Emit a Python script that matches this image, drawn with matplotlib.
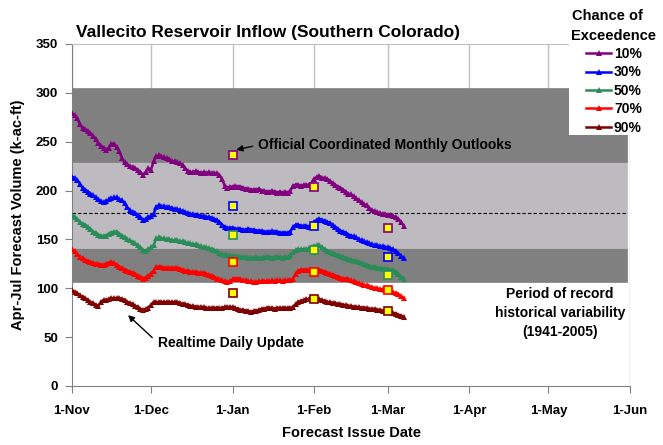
import matplotlib
matplotlib.use('Agg')
import matplotlib.pyplot as plt
import matplotlib.dates as mdates
from matplotlib.patches import Rectangle
import pandas as pd

plt.rcParams['font.family'] = ['Liberation Sans', 'DejaVu Sans']
plt.rcParams['font.weight'] = 'bold'

# daily forecasts (k-ac-ft), 1-Nov through 7-Mar
p10 = [279, 277, 274, 268, 264, 263, 261, 259, 256, 253, 249, 246, 244, 242, 244, 248,
       248, 245, 240, 233, 229, 227, 225, 224, 223, 221, 219, 216, 219, 223, 221, 230,
       235, 236, 235, 234, 233, 232, 230, 230, 229, 228, 226, 223, 220, 219, 219, 220,
       219, 218, 219, 218, 219, 218, 218, 218, 216, 212, 205, 203, 204, 204, 205, 204,
       204, 203, 202, 202, 201, 201, 201, 202, 200, 200, 199, 199, 200, 199, 198, 199,
       198, 199, 198, 200, 205, 206, 206, 205, 206, 206, 206, 208, 212, 214, 215, 213,
       213, 212, 210, 208, 206, 204, 203, 201, 199, 197, 196, 194, 192, 190, 188, 186,
       185, 182, 180, 179, 178, 177, 176, 176, 175, 175, 174, 173, 171, 168, 164]
p30 = [214, 213, 211, 207, 203, 201, 199, 197, 195, 193, 191, 189, 188, 189, 191, 192,
       193, 193, 191, 190, 187, 183, 180, 178, 177, 175, 173, 170, 171, 173, 174, 176,
       183, 185, 184, 184, 183, 183, 182, 181, 181, 180, 179, 178, 177, 176, 176, 175,
       175, 174, 174, 173, 173, 172, 171, 170, 168, 165, 163, 162, 162, 162, 161, 161,
       161, 160, 160, 161, 160, 160, 159, 159, 159, 158, 158, 158, 159, 158, 158, 157,
       157, 157, 157, 158, 163, 165, 165, 164, 164, 164, 163, 165, 168, 170, 171, 170,
       169, 168, 167, 165, 163, 161, 159, 158, 157, 155, 154, 153, 152, 150, 149, 148,
       147, 146, 145, 144, 144, 143, 143, 142, 142, 141, 140, 138, 136, 133, 131]
p50 = [175, 173, 171, 168, 166, 165, 163, 161, 158, 157, 155, 154, 153, 154, 156, 157,
       158, 158, 156, 154, 152, 150, 149, 147, 146, 144, 142, 139, 138, 140, 142, 144,
       151, 152, 151, 151, 150, 150, 149, 149, 149, 148, 148, 147, 146, 146, 145, 145,
       144, 143, 142, 142, 141, 140, 139, 138, 136, 135, 134, 134, 134, 133, 133, 133,
       132, 132, 132, 131, 131, 131, 132, 131, 131, 132, 132, 132, 131, 132, 132, 132,
       131, 132, 132, 134, 137, 139, 140, 140, 140, 140, 141, 142, 143, 144, 144, 142,
       140, 138, 137, 136, 135, 134, 133, 132, 131, 130, 129, 128, 128, 127, 126, 125,
       124, 123, 122, 122, 121, 121, 120, 120, 120, 119, 119, 117, 115, 112, 110]
p70 = [140, 138, 135, 132, 131, 129, 128, 127, 126, 125, 125, 124, 124, 125, 126, 127,
       126, 124, 122, 121, 119, 118, 117, 116, 115, 113, 112, 110, 111, 113, 115, 118,
       122, 122, 122, 121, 121, 121, 121, 121, 121, 120, 119, 118, 118, 117, 117, 117,
       116, 116, 116, 115, 114, 113, 112, 110, 109, 108, 107, 106, 107, 109, 110, 110,
       109, 108, 108, 107, 107, 106, 106, 107, 107, 107, 107, 107, 108, 107, 108, 108,
       107, 108, 108, 108, 110, 115, 118, 119, 119, 119, 119, 119, 119, 119, 119, 118,
       117, 116, 115, 114, 113, 112, 111, 110, 110, 109, 108, 107, 106, 105, 104, 103,
       103, 102, 101, 100, 100, 99, 99, 98, 98, 97, 96, 95, 94, 92, 90]
p90 = [98, 96, 95, 93, 91, 90, 88, 86, 85, 83, 82, 86, 88, 88, 89, 90,
       90, 90, 90, 89, 88, 86, 85, 84, 82, 81, 79, 78, 79, 80, 83, 86,
       86, 86, 86, 86, 86, 86, 86, 86, 86, 85, 84, 84, 83, 82, 82, 81,
       81, 81, 81, 80, 80, 80, 80, 80, 80, 80, 81, 81, 81, 81, 80, 79,
       78, 78, 77, 77, 76, 77, 77, 78, 79, 79, 80, 80, 80, 79, 80, 80,
       80, 80, 80, 80, 81, 84, 86, 87, 88, 89, 89, 90, 90, 90, 89, 88,
       87, 86, 86, 85, 85, 84, 84, 83, 83, 82, 82, 81, 81, 81, 80, 80,
       80, 79, 79, 79, 78, 78, 77, 77, 76, 76, 75, 74, 73, 72, 71]

# official coordinated outlooks (10, 30, 50, 70, 90 %)
outlook_dates = ['2006-01-01', '2006-02-01', '2006-03-01']
outlook_jan = [236, 184, 155, 127, 95]
outlook_feb = [204, 164, 139, 117, 89]
outlook_mar = [162, 132, 114, 98, 77]

# period of record bands (1941-2005)
band_edges = [0, 106.5, 141, 229, 305]
band_median = 177.5

labels = ['10%', '30%', '50%', '70%', '90%']
colors = ['#800080', '#0000ff', '#2a8c58', '#ff0000', '#800000']
band_colors = ['white', '#808080', '#bdbbbf', '#808080']

fig = plt.figure(figsize=(6.63, 4.45), dpi=100)
ax = fig.add_axes([72 / 663, 1 - 386 / 445, 558 / 663, 342 / 445])

start = pd.Timestamp('2005-11-01')
end = pd.Timestamp('2006-06-01')
band_end = pd.Timestamp('2006-05-31')

for i in range(4):
    ax.fill_between([start, band_end], band_edges[i], band_edges[i + 1],
                    facecolor=band_colors[i], edgecolor=band_colors[i], lw=0.5, zorder=1)
ax.plot([start, band_end], [band_median, band_median], color='black', lw=0.8,
        dashes=(3, 2), zorder=2)

dates = pd.date_range(start, periods=len(p10), freq='D')
handles = []
for vals, c, lab in zip([p10, p30, p50, p70, p90], colors, labels):
    h, = ax.plot(dates, vals, color=c, lw=1.8, marker='^', ms=5, mew=0, label=lab, zorder=3)
    handles.append(h)

odates = pd.to_datetime(outlook_dates)
for i, c in enumerate(colors):
    ax.plot(odates, [outlook_jan[i], outlook_feb[i], outlook_mar[i]], ls='none',
            marker='s', ms=6, mfc='#ffff00', mec=c, mew=1.2, zorder=4)

ax.set_xlim(start, end)
ax.set_ylim(0, 350)
ax.set_yticks(range(0, 351, 50))
ax.xaxis.set_major_locator(mdates.MonthLocator())
ax.xaxis.set_major_formatter(mdates.DateFormatter('1-%b'))
ax.grid(axis='x', color='#c0c0c0', lw=1)
ax.set_axisbelow(True)

ax.spines['right'].set_visible(False)
ax.spines['top'].set_color('#c0c0c0')
ax.spines['left'].set_color('#808080')
ax.spines['bottom'].set_color('#808080')
ax.tick_params(axis='both', direction='out', length=5, color='#808080', labelsize=9.5)
ax.tick_params(axis='y', pad=5)
ax.tick_params(axis='x', pad=9)

ax.set_xlabel('Forecast Issue Date', fontsize=10.5, fontweight='bold', va='center')
ax.xaxis.set_label_coords(0.5, (386 - 433) / 342)
ax.set_ylabel('Apr-Jul Forecast Volume (k-ac-ft)', fontsize=10.5, fontweight='bold', va='center')
ax.yaxis.set_label_coords((18 - 72) / 558, 0.5)

day = pd.Timedelta(days=1)
ax.annotate('Official Coordinated Monthly Outlooks', xy=(start + 61.9 * day, 241.5),
            xytext=(start + 70.7 * day, 246.5), ha='left', va='center', fontsize=10,
            fontweight='bold',
            arrowprops=dict(arrowstyle='-|>', color='black', lw=1, mutation_scale=9,
                            relpos=(0, 0.5), shrinkA=2, shrinkB=1))
ax.annotate('Realtime Daily Update', xy=(start + 20.9 * day, 73.5),
            xytext=(start + 32.7 * day, 44), ha='left', va='center', fontsize=10,
            fontweight='bold',
            arrowprops=dict(arrowstyle='-|>', color='black', lw=1, mutation_scale=9,
                            relpos=(0, 0.5), shrinkA=3, shrinkB=1))
ax.text(start + 185.4 * day, 74.5, 'Period of record\nhistorical variability\n(1941-2005)',
        ha='center', va='center', fontsize=10, fontweight='bold', linespacing=1.45)

fig.text(76 / 663, 1 - 32 / 445, 'Vallecito Reservoir Inflow (Southern Colorado)',
         ha='left', va='center', fontsize=12.5, fontweight='bold')

# white box behind the legend, covering the bands as in the original
fig.add_artist(Rectangle((569 / 663, 1 - 135 / 445), 1 - 569 / 663, 135 / 445,
                         transform=fig.transFigure, facecolor='white', edgecolor='none', zorder=3))
leg = fig.legend(handles, labels, title='Chance of\nExceedence', loc='upper center',
                 bbox_to_anchor=(614 / 663, 1 - 9 / 445), frameon=False, fontsize=10,
                 title_fontproperties={'weight': 'bold', 'size': 10.5}, handlelength=1.8,
                 handletextpad=0.2, labelspacing=0.32, borderaxespad=0, borderpad=0)
leg.get_title().set_linespacing(1.5)

fig.savefig('out.png', dpi=100)
